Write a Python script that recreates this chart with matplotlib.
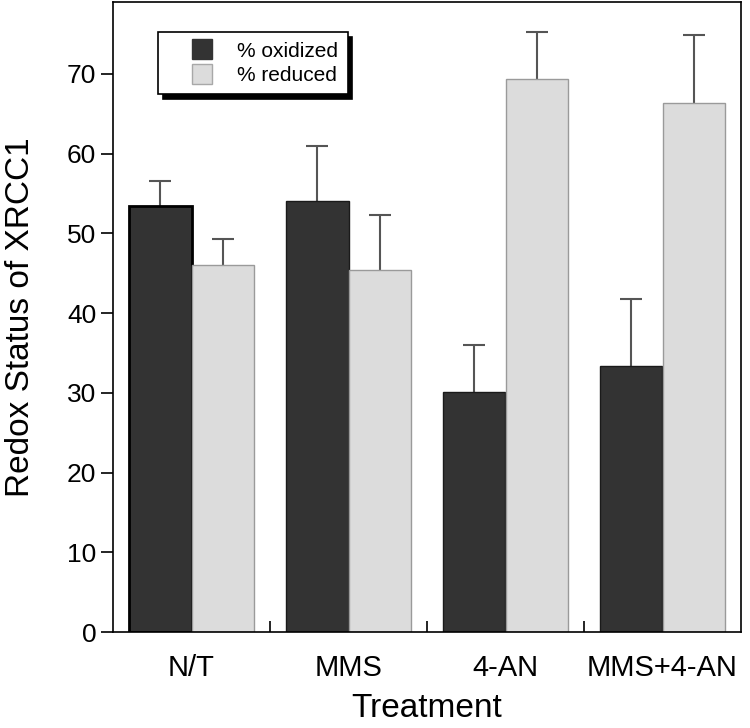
import numpy as np
import matplotlib
matplotlib.use("Agg")
import matplotlib.pyplot as plt
from matplotlib.lines import Line2D

plt.rcParams['font.family'] = ['Liberation Sans', 'DejaVu Sans']

treatments = ["N/T", "MMS", "4-AN", "MMS+4-AN"]
oxidized = [53.4, 54.0, 30.1, 33.3]
oxidized_err = [3.2, 6.9, 5.9, 8.5]
reduced = [46.0, 45.4, 69.4, 66.3]
reduced_err = [3.3, 6.9, 5.8, 8.5]

DARK = "#333333"
LIGHT = "#dcdcdc"
ERR = "#555555"

fig = plt.figure(figsize=(7.5, 7.28), dpi=100)
ax = fig.add_axes([113/750, 1 - 632/728, 628/750, 630/728])

x = np.arange(len(treatments)) + 0.5
w = 0.4
zeros = np.zeros(len(x))

# upper whiskers only: hide the cap that would sit on the bar top
for xs, ys, es in [(x - w/2, oxidized, oxidized_err), (x + w/2, reduced, reduced_err)]:
    _, caps, _ = ax.errorbar(xs, ys, yerr=[zeros, es], fmt="none", ecolor=ERR,
                             elinewidth=1.5, capsize=8, capthick=1.5, zorder=1)
    caps[0].set_visible(False)

bars_ox = ax.bar(x - w/2, oxidized, width=w, color=DARK, edgecolor="#1a1a1a", lw=1.0, zorder=2)
bars_ox[0].set_edgecolor("black")
bars_ox[0].set_linewidth(2.0)
ax.bar(x + w/2, reduced, width=w, color=LIGHT, edgecolor="#9a9a9a", lw=1.0, zorder=2)

ax.set_xlim(0, 4)
ax.set_ylim(0, 79)
ax.set_yticks(np.arange(0, 71, 10))
ax.set_xticks(x)
ax.set_xticklabels(treatments)
ax.set_xticks([1, 2, 3], minor=True)
ax.tick_params(axis="x", which="major", length=0, pad=16, labelsize=21)
ax.tick_params(axis="x", which="minor", direction="in", length=8, width=1.2, color="black")
ax.tick_params(axis="y", direction="out", length=8.6, width=1.2, pad=3.5, labelsize=19)
for s in ax.spines.values():
    s.set_linewidth(1.2)

ax.set_xlabel("Treatment", fontsize=24, labelpad=8)
ax.set_ylabel("Redox Status of XRCC1", fontsize=24, labelpad=22)

handles = [
    Line2D([0], [0], ls="none", marker="s", markersize=14,
           markerfacecolor=DARK, markeredgecolor=DARK, label="% oxidized"),
    Line2D([0], [0], ls="none", marker="s", markersize=14,
           markerfacecolor=LIGHT, markeredgecolor="#a8a8a8", label="% reduced"),
]
leg = ax.legend(handles=handles, loc="upper left", bbox_to_anchor=(0.0717, 0.952),
                borderaxespad=0, fontsize=15, handlelength=3.3, handletextpad=0.05,
                borderpad=0.45, labelspacing=0.25, fancybox=False,
                shadow={"ox": 3.5, "oy": -3.5, "color": "black", "alpha": 1})
leg.get_frame().set_edgecolor("black")
leg.get_frame().set_linewidth(1.2)
leg.get_frame().set_alpha(1)

fig.savefig("out.png", dpi=100)
